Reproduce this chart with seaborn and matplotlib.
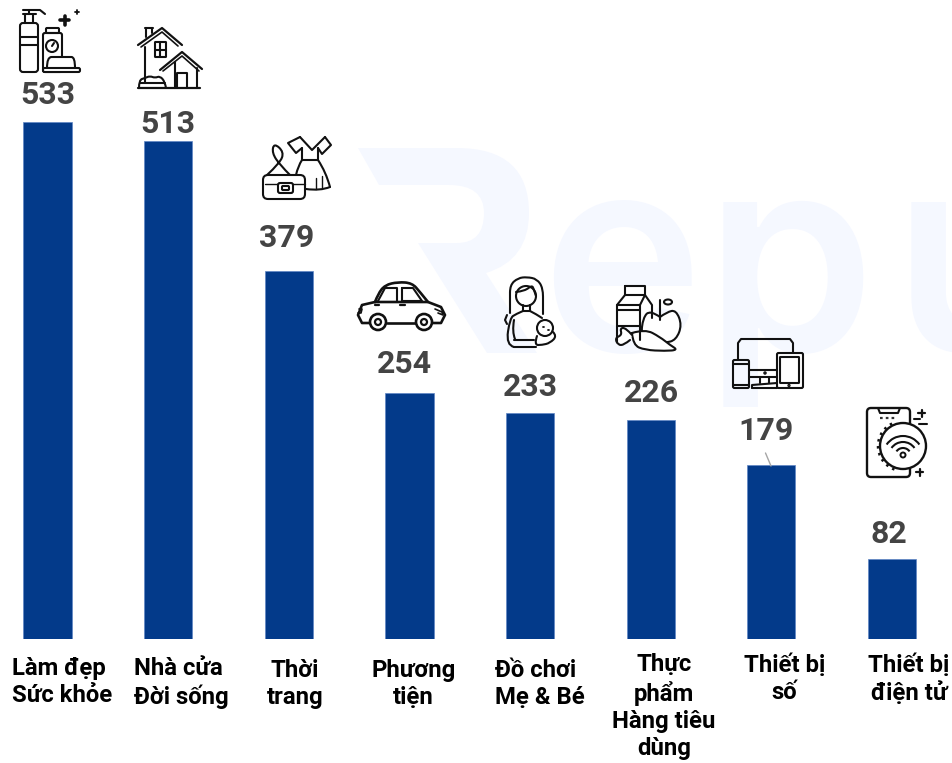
import matplotlib
matplotlib.use("Agg")
import matplotlib.pyplot as plt
import seaborn as sns
from matplotlib.patches import Circle, Ellipse, FancyBboxPatch, PathPatch, Arc
from matplotlib.path import Path
from matplotlib.transforms import ScaledTranslation

categories = ["Làm đẹp\nSức khỏe", "Nhà cửa\nĐời sống", "Thời\ntrang", "Phương\ntiện",
              "Đồ chơi\nMẹ & Bé", "Thực\nphẩm\nHàng tiêu\ndùng", "Thiết bị\nsố", "Thiết bị\nđiện tử"]
values = [533, 513, 379, 254, 233, 226, 179, 82]

W, H, DPI = 953, 763, 100
BASE = 639
PX_PER_UNIT = 0.97
BAR = "#033A8A"
PALE = "#F5F8FF"
INK = "#111111"

label_dx = [0, 0, -2, -5, 0, 1, -5, -3]
label_dy = [27, 17, 33, 29, 26, 27, 34, 25]
tick_dx = [-35.5, -34, 6, 4, -35, 13, 13, 17]
tick_dy = [18, 18, 20, 20, 20, 14, 14, 14]
tick_ha = ["left", "left", "center", "center", "left", "center", "center", "center"]

sns.set_theme(style="white")
plt.rcParams["font.family"] = ["Roboto", "DejaVu Sans"]
fig = plt.figure(figsize=(W / DPI, H / DPI), dpi=DPI, facecolor="white")

# pixel-space layers: watermark below, icons above
bg = fig.add_axes([0, 0, 1, 1], zorder=0)
fg = fig.add_axes([0, 0, 1, 1], zorder=2)
for a in (bg, fg):
    a.set_xlim(0, W)
    a.set_ylim(H, 0)
    a.axis("off")
    a.patch.set_alpha(0)

# data axes: x index, y in value units
ax = fig.add_axes([0, (H - BASE) / H, 1, BASE / H], zorder=1)
ax.patch.set_alpha(0)
sns.barplot(x=categories, y=values, color=BAR, saturation=1, width=0.4, ax=ax,
            edgecolor="#5F86C4", linewidth=0.5)
step = 120.64
ax.set_xlim(-47.5 / step, (W - 47.5) / step)
ax.set_ylim(0, BASE / PX_PER_UNIT)
ax.set_xlabel("")
ax.set_ylabel("")
ax.set_yticks([])
sns.despine(ax=ax, left=True, bottom=True, right=True, top=True)
ax.tick_params(axis="x", length=0, pad=0)
for tick, dx, dy, ha in zip(ax.get_xticklabels(), tick_dx, tick_dy, tick_ha):
    tick.set_fontsize(17.2)
    tick.set_fontweight("bold")
    tick.set_color("#000000")
    tick.set_ha(ha)
    tick.set_multialignment("left" if ha == "left" else "center")
    tick.set_linespacing(1.24)
    tick.set_va("top")
    tick.set_transform(tick.get_transform() + ScaledTranslation(dx / DPI, -dy / DPI, fig.dpi_scale_trans))

for i, v in enumerate(values):
    ax.annotate(str(v), (i, v), xytext=(label_dx[i] * 72 / DPI, label_dy[i] * 72 / DPI),
                textcoords="offset points", ha="center", va="center",
                fontsize=23, fontweight="bold", color="#444444")

# watermark
r = Path([(358, 148), (457, 148), (529, 148), (529, 213), (529, 260), (486, 273), (537, 353),
          (487, 353), (418, 243), (457, 243), (484, 243), (484, 213), (484, 185), (449, 185),
          (379, 185), (358, 148)],
         [Path.MOVETO, Path.LINETO, Path.CURVE3, Path.CURVE3, Path.CURVE3, Path.CURVE3, Path.LINETO,
          Path.LINETO, Path.LINETO, Path.LINETO, Path.CURVE3, Path.CURVE3, Path.CURVE3, Path.CURVE3,
          Path.LINETO, Path.CLOSEPOLY])
bg.add_patch(PathPatch(r, fc=PALE, ec="none"))
for ch, x in zip("epu", [541, 705, 893]):
    bg.text(x, 351, ch, fontsize=196, family="Inter", fontweight="semibold", color=PALE,
            ha="left", va="baseline", clip_on=True)

LW = 1.5


def line(pts, closed=False, lw=LW, color=INK):
    xs = [p[0] for p in pts]
    ys = [p[1] for p in pts]
    if closed:
        xs.append(xs[0])
        ys.append(ys[0])
    fg.plot(xs, ys, color=color, lw=lw, solid_capstyle="round", solid_joinstyle="round")


def curve(pts, lw=LW, fc="none"):
    verts = [pts[0]]
    codes = [Path.MOVETO]
    for i in range(1, len(pts) - 1):
        end = pts[i + 1] if i == len(pts) - 2 else ((pts[i][0] + pts[i + 1][0]) / 2, (pts[i][1] + pts[i + 1][1]) / 2)
        verts += [pts[i], end]
        codes += [Path.CURVE3, Path.CURVE3]
    fg.add_patch(PathPatch(Path(verts, codes), fc=fc, ec=INK, lw=lw, capstyle="round", joinstyle="round"))


def rrect(x0, y0, x1, y1, r=2, lw=LW, fc="none"):
    fg.add_patch(FancyBboxPatch((x0 + r, y0 + r), x1 - x0 - 2 * r, y1 - y0 - 2 * r,
                                boxstyle=f"round,pad={r},rounding_size={r}", fc=fc, ec=INK, lw=lw))


def circ(x, y, r, lw=LW, fc="none"):
    fg.add_patch(Circle((x, y), r, fc=fc, ec=INK, lw=lw))


def plus(x, y, s, lw=LW):
    line([(x - s, y), (x + s, y)], lw=lw)
    line([(x, y - s), (x, y + s)], lw=lw)


# beauty products
rrect(20, 23, 38, 72, 3)
line([(20, 37), (38, 37)]); line([(20, 45), (38, 45)])
line([(25, 23), (25, 14)]); line([(33, 23), (33, 14)])
line([(23, 14), (36, 14)]); line([(23, 10), (40, 10), (45, 14)]); line([(29, 10), (29, 14)])
rrect(43, 33, 62, 72, 2)
rrect(46, 28, 59, 33, 1)
circ(52, 46, 6)
line([(52, 46), (54, 43)])
curve([(47, 68), (47, 57), (56, 57), (68, 57), (75, 57), (75, 68)], fc="white")
rrect(43, 68, 80, 72, 1.5, fc="white")
plus(65, 20, 4.5, lw=2.6)
plus(77, 12, 2.2, lw=1.3)

# house
line([(138, 45), (162, 28), (182, 45)], lw=1.6)
line([(141, 47), (162, 32), (178, 46)], lw=1.2)
line([(145, 28), (153, 28)]); line([(146, 28), (146, 37)]); line([(152, 28), (152, 33)])
line([(145, 47), (145, 82)])
rrect(155, 42, 166, 57, 0.5)
line([(160.5, 42), (160.5, 57)]); line([(155, 49.5), (166, 49.5)])
line([(160, 70), (182, 52), (202, 69)], lw=1.6)
line([(163, 71), (182, 56), (199, 71)], lw=1.2)
line([(175, 62), (175, 88)]); line([(197, 68), (197, 88)])
line([(177, 88), (177, 73), (187, 73), (187, 88)])
line([(138, 88), (200, 88)], lw=1.6)
curve([(139, 88), (139, 80), (145, 78), (150, 76), (155, 78), (160, 76), (165, 82), (166, 88)])
line([(140, 83), (165, 83)])

# dress and bag
rrect(263, 175, 305, 199, 5)
rrect(278, 183, 293, 193, 2, fc="white")
rrect(282, 186, 289, 190, 1)
line([(265, 184), (278, 184)], lw=1); line([(293, 184), (305, 184)], lw=1)
curve([(267, 175), (280, 163), (284, 152), (274, 143), (272, 153), (280, 165), (290, 175)])
line([(300, 137), (312, 150), (325, 137)])
line([(300, 137), (288, 143), (296, 153), (302, 148)])
line([(325, 137), (331, 145), (322, 154), (318, 148)])
line([(302, 148), (302, 160), (318, 160), (318, 148)])
curve([(318, 160), (326, 172), (330, 187)])
curve([(330, 187), (320, 191), (306, 189)])
curve([(302, 160), (298, 166), (296, 175)])
line([(322, 176), (322, 188)], lw=1); line([(316, 178), (316, 189)], lw=1)

# car
curve([(375, 302), (378, 294), (385, 285), (398, 282), (412, 283), (420, 292), (428, 302)], lw=1.9)
line([(375, 302), (428, 302), (441, 307), (445, 315), (441, 323), (433, 323)], lw=1.9)
line([(375, 302), (362, 305), (358, 315), (362, 323), (369, 323)], lw=1.9)
line([(387, 323), (415, 323)], lw=1.9)
circ(378, 322, 8, lw=1.9, fc="white"); circ(378, 322, 3, lw=1.6)
circ(424, 322, 8, lw=1.9, fc="white"); circ(424, 322, 3, lw=1.6)
line([(378, 301), (385, 288), (397, 288), (397, 301)], lw=1.5)
line([(402, 288), (413, 288), (422, 301), (402, 301), (402, 288)], lw=1.5)
line([(375, 305), (379, 305)], lw=1.6); line([(400, 305), (405, 305)], lw=1.6)
line([(359, 309), (362, 309), (361, 313), (358, 313)], lw=1.2); line([(435, 309), (442, 312), (443, 315), (438, 313)], lw=1.2)

# mother and baby
curve([(510, 313), (510, 300), (510, 285), (518, 278), (527, 277), (537, 279), (543, 288), (543, 305), (543, 314)])
circ(526, 296, 10)
curve([(516, 292), (525, 291), (532, 285), (534, 290), (536, 296)])
line([(523, 305), (523, 311), (530, 311), (530, 305)])
curve([(523, 311), (516, 314), (510, 318), (506, 345), (514, 347)])
curve([(530, 311), (536, 314), (542, 318)])
line([(514, 347), (536, 347)])
line([(514, 340), (534, 340)])
curve([(514, 320), (512, 332), (515, 339)])
line([(507, 315), (505, 320), (507, 324)])
circ(545, 328, 8, fc="white")
curve([(537, 336), (534, 345), (542, 345), (550, 343), (557, 336), (553, 332)])
line([(543, 327), (544, 327)], lw=1.3); line([(548, 330), (549, 330)], lw=1.3)

# milk, apple, carrot
line([(625, 286), (645, 286), (645, 295), (625, 295), (625, 286)])
line([(625, 295), (617, 305), (617, 342)]); line([(645, 295), (652, 305), (652, 318)])
line([(617, 305), (640, 305), (640, 340)]); line([(640, 305), (645, 295)])
line([(617, 310), (640, 310)]); line([(617, 326), (640, 326)])
curve([(660, 317), (650, 310), (643, 318), (641, 336), (650, 340), (665, 343), (676, 340), (682, 325), (676, 310), (667, 312), (660, 317)], fc="white")
line([(660, 320), (660, 300)])
fg.add_patch(Ellipse((668, 302), 8, 5, fc="none", ec=INK, lw=LW))
curve([(632, 333), (645, 329), (660, 337), (670, 345), (678, 350), (665, 351), (645, 350), (633, 345), (632, 333)], fc="white")
curve([(632, 335), (626, 328), (620, 328), (622, 335), (615, 338), (618, 345), (624, 345), (630, 340)], fc="white")

# devices
line([(738, 360), (738, 343), (741, 339), (790, 339), (793, 343), (793, 353)])
rrect(777, 353, 803, 388, 1.5)
rrect(780, 357, 799, 383, 0.5)
rrect(733, 360, 749, 388, 1.5)
line([(733, 364), (749, 364)]); line([(733, 385), (749, 385)])
line([(749, 370), (777, 370)]); line([(749, 377), (777, 377)])
line([(760, 377), (760, 383)]); line([(769, 377), (769, 383)])
line([(752, 388), (752, 385), (777, 383)]); line([(752, 388), (777, 388)])
circ(765, 373, 0.7, fc=INK); circ(789, 385.5, 0.6, fc=INK)

# phone and wifi
rrect(867, 408, 910, 477, 4, lw=1.7)
line([(878, 408), (880, 413), (898, 413), (900, 408)], lw=1.5)
line([(880, 418), (896, 418)], lw=1.6, color="#333333")
fg.lines[-1].set_linestyle((0, (1.2, 1.4)))
fg.add_patch(Arc((903, 446), 50, 50, theta1=110, theta2=250, ec=INK, lw=1.8, ls=(0, (1, 1.8))))
circ(903, 446, 23, lw=1.7, fc="white")
for rad in (8, 14, 20):
    fg.add_patch(Arc((903, 456), 2 * rad, 2 * rad, theta1=215, theta2=325, ec=INK, lw=1.5))
circ(903, 455, 2.5, lw=1.4)
plus(922, 413, 3.5, lw=1.6); plus(920, 472, 3.5, lw=1.6)
line([(914, 419), (920, 419)], lw=1.5); line([(919, 424), (927, 424)], lw=1.5)

# leader line of the 179 label
fg.plot([765.5, 771], [453, 466], color="#A6A6A6", lw=1.0)

fig.savefig("out.png", dpi=DPI, facecolor="white")
